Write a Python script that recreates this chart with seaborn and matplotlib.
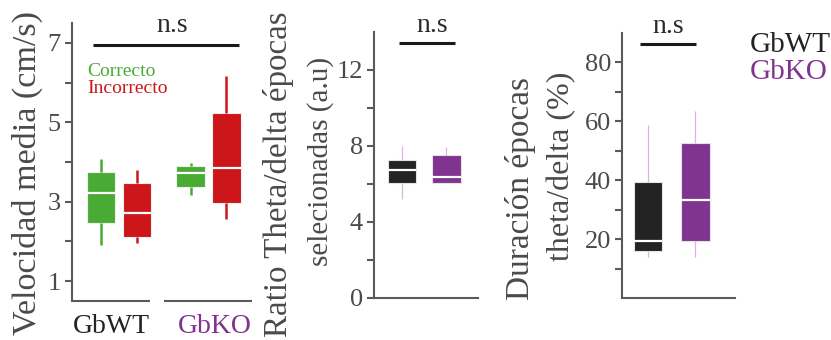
import numpy as np
import pandas as pd
import seaborn as sns
import matplotlib.pyplot as plt
from matplotlib.ticker import FixedLocator

sns.set_theme(style="white")
plt.rcParams["font.family"] = ["Liberation Serif", "DejaVu Serif"]

groups = ["GbWT", "GbKO"]
trials = ["Correcto", "Incorrecto"]

# five-number summaries per box: whisker low, Q1, median, Q3, whisker high
vel_wt_correcto = [1.91, 2.46, 3.21, 3.74, 4.07]
vel_wt_incorrecto = [1.96, 2.11, 2.71, 3.48, 3.80]
vel_ko_correcto = [3.17, 3.38, 3.73, 3.91, 3.97]
vel_ko_incorrecto = [2.56, 2.96, 3.84, 5.24, 6.17]

ratio_wt = [5.19, 6.07, 6.72, 7.26, 8.02]
ratio_ko = [6.05, 6.07, 6.35, 7.51, 7.93]

dur_wt = [13.9, 16.1, 19.5, 39.3, 58.7]
dur_ko = [13.9, 19.2, 33.3, 52.5, 63.6]

GREEN = "#4aab34"
RED = "#cd1619"
BLACK = "#232323"
PURPLE = "#80348f"
AXIS = "#5a5a5a"
TXT = "#4a4a4a"

vel_df = pd.DataFrame({
    "grupo": ["GbWT"] * 10 + ["GbKO"] * 10,
    "ensayo": (["Correcto"] * 5 + ["Incorrecto"] * 5) * 2,
    "vel": vel_wt_correcto + vel_wt_incorrecto + vel_ko_correcto + vel_ko_incorrecto,
})
ratio_df = pd.DataFrame({"grupo": ["GbWT"] * 5 + ["GbKO"] * 5, "ratio": ratio_wt + ratio_ko})
dur_df = pd.DataFrame({"grupo": ["GbWT"] * 5 + ["GbKO"] * 5, "dur": dur_wt + dur_ko})

W, H = 831, 340
fig = plt.figure(figsize=(W / 100, H / 100), dpi=100)


def panel(left, right, top, bottom):
    return fig.add_axes([left / W, 1 - bottom / H, (right - left) / W, (bottom - top) / H])


ax1 = panel(72, 252, 23, 301)
ax2 = panel(374, 478, 32, 298)
ax3 = panel(622, 735, 33, 298)

# --- velocity by group and trial outcome ---
sns.boxplot(data=vel_df, x="grupo", y="vel", hue="ensayo", order=groups, hue_order=trials,
            palette=[GREEN, RED], saturation=1, width=0.8, gap=0.2, dodge=True,
            showcaps=False, linecolor="#eeeeee", linewidth=0.8, fliersize=0,
            medianprops={"color": "white", "linewidth": 1.6},
            whiskerprops={"linewidth": 1.8}, legend=False, ax=ax1)
for cont in ax1.containers:
    fc = cont.boxes[0].get_facecolor()
    for wl in cont.whiskers:
        wl.set_color(fc)

kw = dict(saturation=1, showcaps=False, linecolor="#e4e4e4", linewidth=0.8, fliersize=0,
          medianprops={"color": "white", "linewidth": 1.6},
          whiskerprops={"color": "#d9b6d9", "linewidth": 0.9}, legend=False)
sns.boxplot(data=ratio_df, x="grupo", y="ratio", hue="grupo", order=groups, hue_order=groups,
            palette=[BLACK, PURPLE], width=0.64, ax=ax2, **kw)
sns.boxplot(data=dur_df, x="grupo", y="dur", hue="grupo", order=groups, hue_order=groups,
            palette=[BLACK, PURPLE], width=0.6, ax=ax3, **kw)

ax1.set_xlim(-0.525, 1.486)
ax1.set_ylim(0.5, 7.5)
ax1.yaxis.set_major_locator(FixedLocator([1, 3, 5, 7]))
ax1.yaxis.set_minor_locator(FixedLocator([2, 4, 6]))

ax2.set_xlim(-0.63, 1.71)
ax2.set_ylim(0, 14)
ax2.yaxis.set_major_locator(FixedLocator([0, 4, 8, 12]))
ax2.yaxis.set_minor_locator(FixedLocator([2, 6, 10]))

ax3.set_xlim(-0.56, 1.84)
ax3.set_ylim(0, 90)
ax3.yaxis.set_major_locator(FixedLocator([20, 40, 60, 80]))
ax3.yaxis.set_minor_locator(FixedLocator([10, 30, 50, 70]))

for ax in (ax1, ax2, ax3):
    ax.set_facecolor("none")
    for s in ("top", "right"):
        ax.spines[s].set_visible(False)
    for s in ("left", "bottom"):
        ax.spines[s].set_color(AXIS)
        ax.spines[s].set_linewidth(1.5)
    ax.set_xlabel("")
    ax.set_ylabel("")
    ax.set_xticks([])
    ax.tick_params(axis="y", which="both", left=True, direction="out", length=5,
                   width=1.5, color=AXIS, labelsize=19, labelcolor=TXT, pad=3)

# broken baseline under each group of panel 1
ax1.spines["bottom"].set_visible(False)
for x0, x1 in ((0.0, 0.433), (0.511, 1.0)):
    ax1.plot([x0, x1], [0, 0], transform=ax1.transAxes, color=AXIS, lw=1.5,
             clip_on=False, solid_capstyle="butt")
ax1.text(0.216, -0.09, "GbWT", transform=ax1.transAxes, ha="center", va="center",
         fontsize=20, color=BLACK)
ax1.text(0.795, -0.09, "GbKO", transform=ax1.transAxes, ha="center", va="center",
         fontsize=20, color=PURPLE)

# trial legend inside panel 1
ax1.text(-0.36, 6.27, "Correcto", ha="left", va="center", fontsize=14, color=GREEN)
ax1.text(-0.36, 5.86, "Incorrecto", ha="left", va="center", fontsize=14, color=RED)

# group legend to the right of panel 3
fig.text(750 / W, 1 - 45 / H, "GbWT", ha="left", va="center", fontsize=21, color=BLACK)
fig.text(750 / W, 1 - 72 / H, "GbKO", ha="left", va="center", fontsize=21, color=PURPLE)


# significance bars
def sig(ax, xa, xb, y, ytxt, dx):
    ax.plot([xa, xb], [y, y], color="#1a1a1a", lw=2.2, solid_capstyle="butt", clip_on=False)
    ax.text((xa + xb) / 2 + dx, ytxt, "n.s", ha="center", va="baseline", fontsize=20,
            color="#2a2a2a", clip_on=False)


sig(ax1, -0.29, 1.34, 6.95, 7.28, 0.07)
sig(ax2, -0.06, 1.2, 13.4, 14.0, 0.1)
sig(ax3, -0.18, 1.01, 86.2, 90.0, 0.0)

# y-axis titles
fig.text(27 / W, 1 - 173 / H, "Velocidad media (cm/s)", rotation=90, ha="center",
         va="center", fontsize=24.6, color=TXT)
fig.text(278 / W, 1 - 174 / H, "Ratio Theta/delta épocas", rotation=90, ha="center",
         va="center", fontsize=23.8, color=TXT)
fig.text(321 / W, 1 - 161 / H, "selecionadas (a.u)", rotation=90, ha="center",
         va="center", fontsize=21, color=TXT)
fig.text(521 / W, 1 - 188 / H, "Duración épocas", rotation=90, ha="center",
         va="center", fontsize=24, color=TXT)
fig.text(562 / W, 1 - 166 / H, "theta/delta (%)", rotation=90, ha="center",
         va="center", fontsize=23, color=TXT)

fig.savefig("out.png", dpi=100, facecolor="white")
